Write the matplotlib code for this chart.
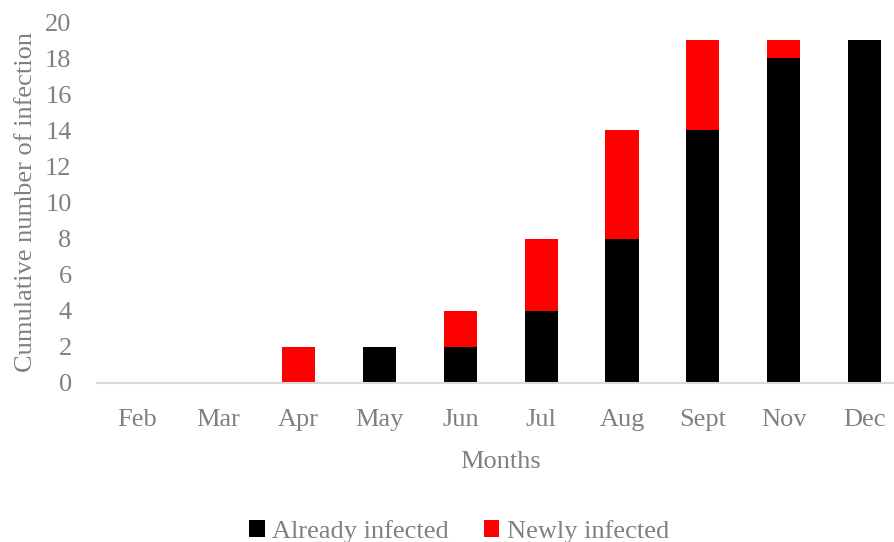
import matplotlib.pyplot as plt
import numpy as np

months = ["Feb", "Mar", "Apr", "May", "Jun", "Jul", "Aug", "Sept", "Nov", "Dec"]
already_infected = [0, 0, 0, 2, 2, 4, 8, 14, 18, 19]
newly_infected = [0, 0, 2, 0, 2, 4, 6, 5, 1, 0]

plt.rcParams["font.family"] = ["Liberation Serif", "DejaVu Serif"]
grey = "#808080"
fs = 19

fig = plt.figure(figsize=(8.95, 5.42), dpi=100)
ax = fig.add_axes([0.108, 0.2934, 0.903, 0.666])

x = np.arange(len(months))
ax.bar(x, already_infected, width=0.41, color="black", label="Already infected")
ax.bar(x, newly_infected, width=0.41, bottom=already_infected, color="red",
       label="Newly infected")

ax.set_xlim(-0.5, len(months) - 0.5)
ax.set_ylim(0, 20)
ax.set_yticks(range(0, 21, 2))
ax.set_xticks(x)
ax.set_xticklabels(months)
ax.tick_params(axis="both", length=0, labelsize=fs, labelcolor=grey)
ax.tick_params(axis="x", pad=19)
ax.tick_params(axis="y", pad=18)

for side in ("top", "right", "left"):
    ax.spines[side].set_visible(False)
ax.spines["bottom"].set_color("#d9d9d9")
ax.spines["bottom"].set_linewidth(1.5)

ax.set_xlabel("Months", fontsize=fs, color=grey, labelpad=14)
ax.set_ylabel("Cumulative number of infection", fontsize=fs, color=grey, labelpad=6)

fig.legend(loc="center", bbox_to_anchor=(0.513, 0.02), ncol=2, frameon=False,
           fontsize=fs, labelcolor=grey, handlelength=0.6, handleheight=0.6,
           handletextpad=0.3, columnspacing=1.3)

fig.savefig("out.png", dpi=100)
